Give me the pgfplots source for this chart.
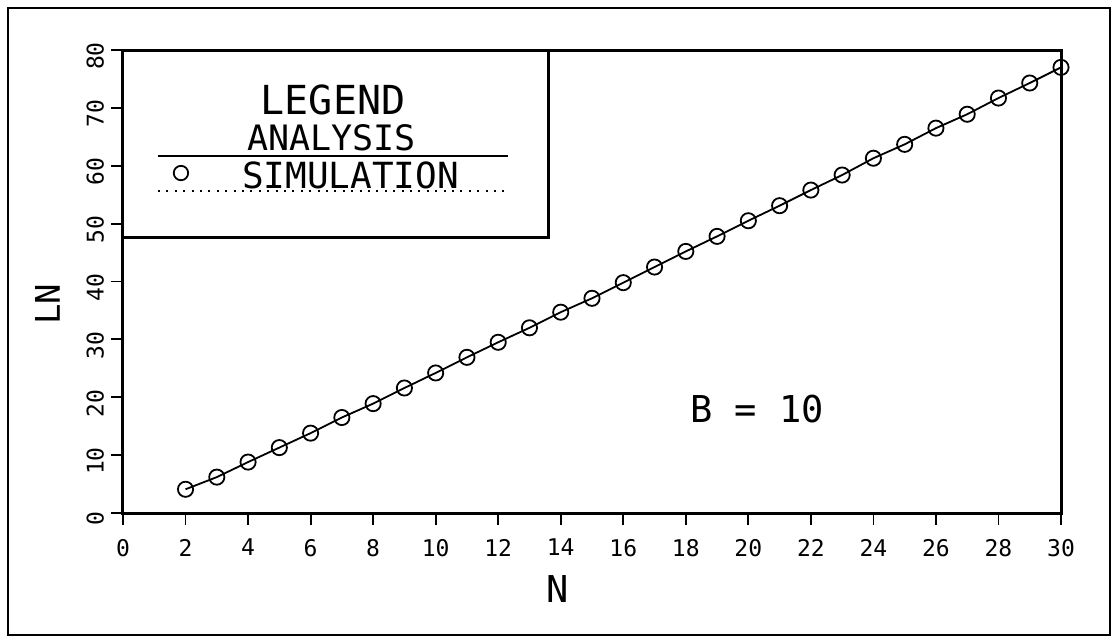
\documentclass[border=0pt]{standalone}
\usepackage{fontspec}
\setmainfont{DejaVu Sans Mono}
\usepackage{pgfplots}
\pgfplotsset{compat=1.18}
\begin{document}
\begin{tikzpicture}
\useasboundingbox (-61.5pt,-62.5pt) rectangle (495pt,256.5pt);
\draw[line width=0.8pt] (-57.5pt,-61pt) rectangle (493.5pt,252.5pt);
\begin{axis}[
  at={(0,0)}, anchor=south west,
  scale only axis,
  width=469pt, height=231.5pt,
  xmin=0, xmax=30, ymin=0, ymax=80,
  xtick={0,2,...,30}, ytick={0,10,...,80},
  axis line style={line width=1.5pt},
  tick align=outside,
  major tick length=6pt,
  tick style={line width=0.9pt, black},
  xtick pos=bottom, ytick pos=left,
  /pgf/number format/assume math mode=true,
  ticklabel style={font=\fontsize{11.5}{12}\selectfont},
  xticklabel style={yshift=-3.5pt},
  yticklabel style={rotate=90, anchor=south, xshift=-3pt},
  xlabel={N}, ylabel={LN},
  xlabel style={at={(rel axis cs:0.4632,-0.1631)}, anchor=center, font=\fontsize{18.5}{20}\selectfont},
  ylabel style={at={(rel axis cs:-0.0805,0.4514)}, anchor=center, rotate=0, font=\fontsize{17}{20}\selectfont},
  clip=false,
]
\addplot[black, line width=0.9pt, mark=o, mark size=3.8pt, mark options={line width=0.9pt}] coordinates {
(2,4.1) (3,6.2) (4,8.8) (5,11.3) (6,13.8) (7,16.5) (8,18.9) (9,21.6) (10,24.2)
(11,26.9) (12,29.5) (13,32.0) (14,34.7) (15,37.1) (16,39.8) (17,42.5) (18,45.2)
(19,47.8) (20,50.5) (21,53.1) (22,55.8) (23,58.4) (24,61.3) (25,63.7) (26,66.5)
(27,68.9) (28,71.7) (29,74.3) (30,77.0)
};
% legend box
\draw[line width=1.5pt] (rel axis cs:0,1) rectangle (rel axis cs:0.4531,0.5961);
\node[font=\fontsize{20}{22}\selectfont, inner sep=0pt] at (rel axis cs:0.2239,0.8920) {LEGEND};
\node[font=\fontsize{17.5}{20}\selectfont, inner sep=0pt] at (rel axis cs:0.2225,0.8100) {ANALYSIS};
\draw[line width=0.9pt] (rel axis cs:0.0373,0.7711) -- (rel axis cs:0.4104,0.7711);
\draw[line width=0.9pt] (rel axis cs:0.0618,0.7343) circle[radius=3.6pt];
\node[font=\fontsize{18}{20}\selectfont, inner sep=0pt] at (rel axis cs:0.2427,0.7283) {SIMULATION};
\draw[line width=1pt, dash pattern=on 1pt off 3.2pt] (rel axis cs:0.0373,0.6955) -- (rel axis cs:0.4104,0.6955);
\node[font=\fontsize{18.5}{20}\selectfont] at (rel axis cs:0.6759,0.2246) {B = 10};
\end{axis}
\end{tikzpicture}
\end{document}
